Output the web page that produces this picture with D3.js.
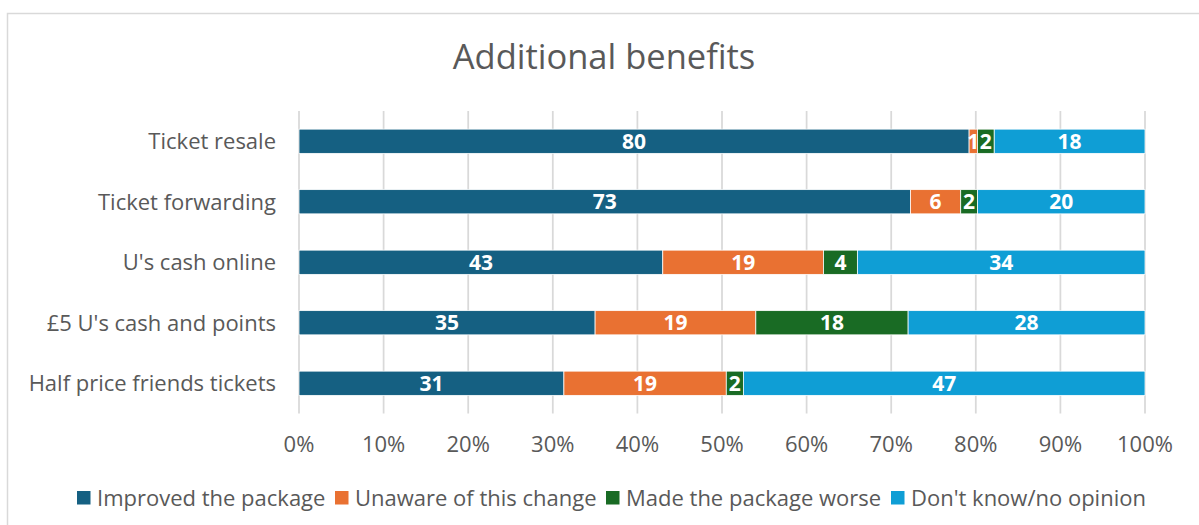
<!DOCTYPE html>
<html><head><meta charset="utf-8">
<script src="https://cdn.jsdelivr.net/npm/d3@7"></script>
<style>body{margin:0;background:#fff;} svg{display:block;font-family:"Open Sans",sans-serif;}</style>
</head><body>
<svg id="c" width="1199" height="525"></svg>
<script>
const categories = ["Ticket resale","Ticket forwarding","U's cash online","£5 U's cash and points","Half price friends tickets"];
const seriesNames = ["Improved the package","Unaware of this change","Made the package worse","Don't know/no opinion"];
const improved = [80,73,43,35,31];
const unaware = [1,6,19,19,19];
const worse = [2,2,4,18,2];
const dontKnow = [18,20,34,28,47];
const colors = ["#156082","#E97132","#196B24","#0F9ED5"];
const tickValues = [0,0.1,0.2,0.3,0.4,0.5,0.6,0.7,0.8,0.9,1.0];
const title = "Additional benefits";

const series = [improved, unaware, worse, dontKnow];
const svg = d3.select("#c");
svg.append("rect").attr("x",7.5).attr("y",13.5).attr("width",1300).attr("height",600)
  .attr("fill","#fff").attr("stroke","#d9d9d9").attr("stroke-width",1.5);

const x = d3.scaleLinear().domain([0,1]).range([299,1145]);
const y = d3.scaleBand().domain(categories).range([111,413.5]).paddingInner(0.6).paddingOuter(0.3);

svg.append("text").attr("x",604).attr("y",69).attr("text-anchor","middle")
  .attr("font-size",34.5).attr("fill","#595959").text(title);

// gridlines
svg.append("g").selectAll("line").data(tickValues).join("line")
  .attr("x1",d=>x(d)).attr("x2",d=>x(d)).attr("y1",111).attr("y2",413.5)
  .attr("stroke","#d9d9d9").attr("stroke-width",1.75);

// x axis labels
const fmt = d3.format(".0%");
svg.append("g").selectAll("text").data(tickValues).join("text")
  .attr("x",d=>x(d)).attr("y",444).attr("dy","0.36em").attr("text-anchor","middle")
  .attr("font-size",22).attr("fill","#595959").text(d=>fmt(d));

// y labels
svg.append("g").selectAll("text").data(categories).join("text")
  .attr("x",276).attr("y",d=>y(d)+y.bandwidth()/2).attr("dy","0.36em").attr("text-anchor","end")
  .attr("font-size",22).attr("fill","#595959").text(d=>d);

// stack
const rows = categories.map((c,i)=>{
  const vals = series.map(s=>s[i]);
  const tot = d3.sum(vals);
  let acc = 0;
  return vals.map((v,j)=>{const r={c,j,v,x0:acc/tot,x1:(acc+v)/tot}; acc+=v; return r;});
}).flat();

svg.append("g").selectAll("rect").data(rows).join("rect")
  .attr("x",d=>x(d.x0)).attr("width",d=>x(d.x1)-x(d.x0))
  .attr("y",d=>y(d.c)).attr("height",y.bandwidth())
  .attr("fill",d=>colors[d.j]).attr("stroke","#fff").attr("stroke-width",0.75);

svg.append("g").selectAll("text").data(rows).join("text")
  .attr("x",d=>(x(d.x0)+x(d.x1))/2).attr("y",d=>y(d.c)+y.bandwidth()/2)
  .attr("dy","0.36em").attr("text-anchor","middle").attr("font-size",21).attr("font-weight","bold")
  .attr("fill","#fff").text(d=>d.v);

// legend
const legX = [77, 335, 606, 891];
const lg = svg.append("g");
seriesNames.forEach((n,i)=>{
  lg.append("rect").attr("x",legX[i]).attr("y",491).attr("width",13.5).attr("height",13.5).attr("fill",colors[i]);
  lg.append("text").attr("x",legX[i]+20).attr("y",498).attr("dy","0.36em").attr("font-size",22)
    .attr("fill","#595959").text(n);
});
</script>
</body></html>
